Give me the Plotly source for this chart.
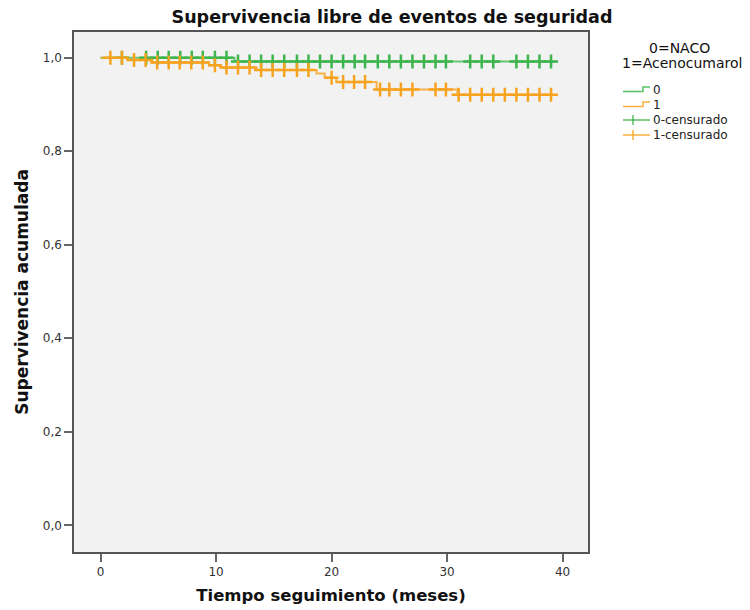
import numpy as np
import plotly.graph_objects as go

# Kaplan-Meier step data (time in months, cumulative survival)
naco_event_times = [0.0, 11.6]
naco_survival = [1.0, 0.992]
naco_end = 39.3
naco_censored = [1.85, 3.95, 4.95, 5.9, 6.9, 7.9, 8.85, 9.9, 10.9, 11.9, 12.9, 13.9,
                 14.9, 15.9, 17.0, 18.0, 19.0, 20.0, 21.0, 22.0, 22.9, 24.0, 25.0, 26.0,
                 27.0, 28.0, 29.0, 29.9, 32.0, 33.0, 34.0, 36.0, 37.0, 38.0, 39.0]

aceno_event_times = [0.0, 2.3, 4.5, 9.4, 10.4, 13.5, 18.7, 19.4, 20.4, 23.9, 30.9]
aceno_survival = [1.0, 0.995, 0.990, 0.984, 0.979, 0.974, 0.966, 0.957, 0.948, 0.932, 0.921]
aceno_end = 39.3
aceno_censored = [0.85, 1.85, 2.9, 3.9, 4.9, 5.9, 6.85, 7.85, 8.85, 9.9, 10.9, 11.9, 12.9,
                  13.9, 14.9, 15.9, 17.0, 18.0, 20.0, 21.0, 21.95, 22.9, 24.2, 25.0, 26.0,
                  27.0, 29.0, 29.9, 31.0, 32.0, 33.0, 34.0, 35.0, 36.0, 37.0, 38.0, 39.0]

x_ticks = [0, 10, 20, 30, 40]
y_ticks = [0.0, 0.2, 0.4, 0.6, 0.8, 1.0]

legend_title_lines = ["0=NACO", "1=Acenocumarol"]
legend_labels = ["0", "1", "0-censurado", "1-censurado"]

GREEN = "#3cb54c"
ORANGE = "#f8a31f"
FONT = "DejaVu Sans"

# plot area in pixels
W, H = 750, 610
L, R, T, B = 74, 162, 32, 58
PW, PH = W - L - R, H - T - B


def step_xy(times, surv, end):
    xs = list(times) + [end]
    ys = list(surv) + [surv[-1]]
    return xs, ys


def surv_at(times, surv, t):
    idx = np.searchsorted(np.asarray(times), t, side="right") - 1
    return np.asarray(surv)[idx]


def px(x):
    return (x - L) / PW


def py(y):
    return (H - B - y) / PH


fig = go.Figure()

gx, gy = step_xy(naco_event_times, naco_survival, naco_end)
ox, oy = step_xy(aceno_event_times, aceno_survival, aceno_end)

fig.add_trace(go.Scatter(x=gx, y=gy, mode="lines", line=dict(color=GREEN, width=2, shape="hv"),
                         opacity=0.75, name=legend_labels[0]))
fig.add_trace(go.Scatter(x=ox, y=oy, mode="lines", line=dict(color=ORANGE, width=2, shape="hv"),
                         opacity=0.8, name=legend_labels[1]))
fig.add_trace(go.Scatter(x=naco_censored,
                         y=surv_at(naco_event_times, naco_survival, np.array(naco_censored)),
                         mode="markers", name=legend_labels[2],
                         marker=dict(symbol="cross-thin", size=10, color=GREEN,
                                     line=dict(color=GREEN, width=2.5))))
fig.add_trace(go.Scatter(x=aceno_censored,
                         y=surv_at(aceno_event_times, aceno_survival, np.array(aceno_censored)),
                         mode="markers", name=legend_labels[3],
                         marker=dict(symbol="cross-thin", size=10, color=ORANGE,
                                     line=dict(color=ORANGE, width=2.5))))

# Legend drawn by hand: step icons for curves, crosses for censored cases
shapes = []
annotations = []
title_pos = [(679, 48), (682, 63)]
for text, (cx, cy) in zip(legend_title_lines, title_pos):
    annotations.append(dict(text=text, x=px(cx), y=py(cy), xref="paper", yref="paper",
                            xanchor="center", yanchor="middle", showarrow=False,
                            font=dict(family=FONT, size=14, color="#111111")))

rows = [90, 105, 120, 135]
colors = [GREEN, ORANGE, GREEN, ORANGE]
for i, (label, cy, col) in enumerate(zip(legend_labels, rows, colors)):
    if i < 2:
        path = (f"M {px(623)},{py(cy + 1.5)} L {px(643)},{py(cy + 1.5)} "
                f"L {px(643)},{py(cy - 3)} L {px(650)},{py(cy - 3)}")
        shapes.append(dict(type="path", path=path, xref="paper", yref="paper",
                           line=dict(color=col, width=1.5), opacity=0.85))
    else:
        shapes.append(dict(type="line", x0=px(623), x1=px(650), y0=py(cy), y1=py(cy),
                           xref="paper", yref="paper", line=dict(color=col, width=1.5),
                           opacity=0.85))
        shapes.append(dict(type="line", x0=px(633), x1=px(633), y0=py(cy - 5), y1=py(cy + 5),
                           xref="paper", yref="paper", line=dict(color=col, width=1.5),
                           opacity=0.85))
    annotations.append(dict(text=label, x=px(651), y=py(cy), xref="paper", yref="paper",
                            xanchor="left", yanchor="middle", showarrow=False,
                            font=dict(family=FONT, size=12, color="#222222")))

axis_common = dict(showline=True, mirror=True, linecolor="#555555", linewidth=1.5,
                   showgrid=False, zeroline=False, ticks="outside", ticklen=8,
                   tickwidth=2, tickcolor="#666666", automargin=False,
                   tickfont=dict(family=FONT, size=12, color="#333333"))

fig.update_layout(
    width=W, height=H,
    margin=dict(l=L, r=R, t=T, b=B),
    paper_bgcolor="white",
    plot_bgcolor="#f2f2f2",
    separators=",.",
    showlegend=False,
    shapes=shapes,
    annotations=annotations,
    title=dict(text="<b>Supervivencia libre de eventos de seguridad</b>",
               x=392 / W, xanchor="center", y=1 - 17 / H, yanchor="middle",
               font=dict(family=FONT, size=17.5, color="#111111")),
    xaxis=dict(range=[-2.3, 42.2], tickvals=x_ticks, **axis_common,
               title=dict(text="<b>Tiempo seguimiento (meses)</b>", standoff=11,
                          font=dict(family=FONT, size=16.5, color="#111111"))),
    yaxis=dict(range=[-0.057, 1.055], tickvals=y_ticks, tickformat=".1f", **axis_common,
               title=dict(text="<b>Supervivencia acumulada</b>", standoff=10,
                          font=dict(family=FONT, size=17, color="#111111"))),
)

fig.write_html("out.html")
